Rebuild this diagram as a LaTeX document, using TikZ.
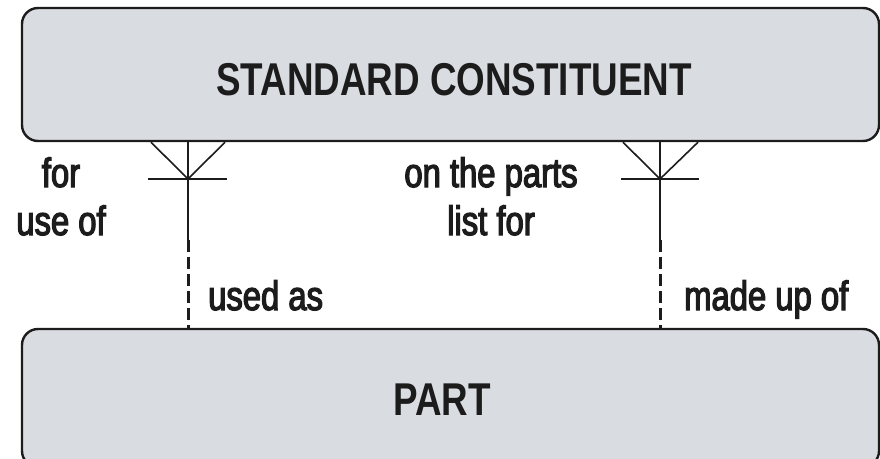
\documentclass[tikz,border=0pt]{standalone}
\usepackage{fontspec}
\setmainfont{Liberation Sans}[FakeStretch=0.8,FakeBold=3]
\newfontfamily\titlefont{Liberation Sans Bold}[FakeStretch=0.8]
\definecolor{boxfill}{HTML}{D9DCE1}
\definecolor{ink}{HTML}{1C1C1C}
\begin{document}
\begin{tikzpicture}[x=1pt,y=-1pt,
  entity/.style={draw=ink,line width=2.4pt,fill=boxfill,rounded corners=16pt,
    rectangle,inner sep=0pt},
  titletext/.style={inner sep=0pt,text=ink,font=\titlefont\fontsize{46}{55}\selectfont,anchor=base},
  lbl/.style={inner sep=0pt,text=ink,font=\fontsize{41}{48}\selectfont,align=center,anchor=base},
  rel/.style={draw=ink,line width=2pt},
  foot/.style={draw=ink,line width=1.6pt},
  optional/.style={draw=ink,line width=3pt,dash pattern=on 12pt off 5pt}]
\useasboundingbox (0,0) rectangle (880,458);
\fill[white] (0,0) rectangle (880,458);
% entities
\node[entity,minimum width=857pt,minimum height=133pt] (sc) at (450.5,74.5) {};
\node[titletext] (sctext) at (454,95) {STANDARD CONSTITUENT};
\node[entity,minimum width=857pt,minimum height=138pt] (part) at (450.5,398) {};
\node[titletext] (parttext) at (442,415) {PART};
% left relationship
\coordinate (lt) at (sc.south -| 188,0);
\coordinate (lm) at (188,179);
\coordinate (ls) at (188,240);
\coordinate (lb) at (part.north -| 188,0);
\draw[foot] (lt -| 151,0) -- (lm) -- (lt -| 225,0);
\draw[foot] (148,179) -- (227,179);
\draw[rel] (lt) -- (ls);
\draw[optional] (ls) -- (lb);
% right relationship
\coordinate (rt) at (sc.south -| 660,0);
\coordinate (rm) at (660,179);
\coordinate (rs) at (660,240);
\coordinate (rb) at (part.north -| 660,0);
\draw[foot] (rt -| 623,0) -- (rm) -- (rt -| 698,0);
\draw[foot] (621,179) -- (699,179);
\draw[rel] (rt) -- (rs);
\draw[optional] (rs) -- (rb);
% labels
\node[lbl] (l1) at (61,235) {for\\use of};
\node[lbl] (l2) at (491,235) {on the parts\\list for};
\node[lbl,anchor=base west] (l3) at (208,310) {used as};
\node[lbl,anchor=base west] (l4) at (684,310) {made up of};
\end{tikzpicture}
\end{document}
